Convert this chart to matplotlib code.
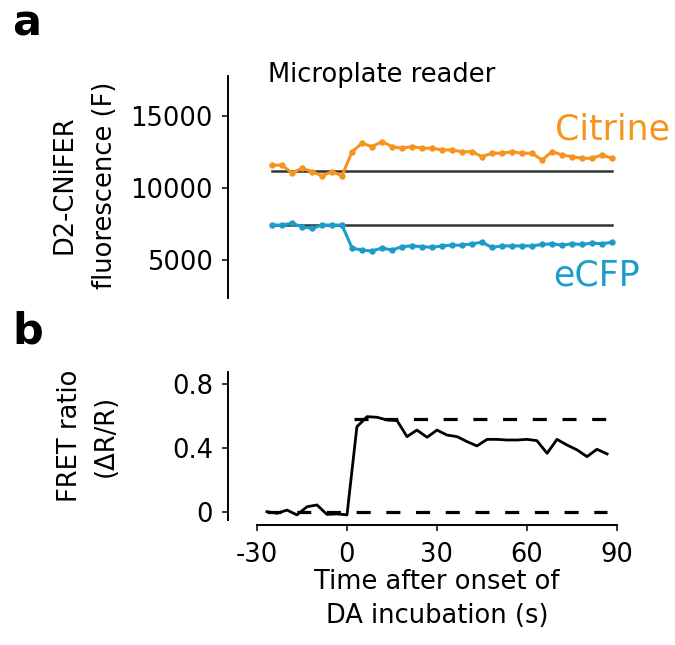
import matplotlib
matplotlib.use("Agg")
import matplotlib.pyplot as plt

plt.rcParams['font.family'] = ['DejaVu Sans']
plt.rcParams['axes.unicode_minus'] = False

# ---------------- data ----------------
# panel a: microplate reader time course
time_a = [-25.0, -21.7, -18.3, -15.0, -11.7, -8.3, -5.0, -1.7,
          1.7, 5.0, 8.3, 11.7, 15.0, 18.3, 21.7, 25.0, 28.3, 31.7, 35.0,
          38.3, 41.7, 45.0, 48.3, 51.7, 55.0, 58.3, 61.7, 65.0, 68.3,
          71.7, 75.0, 78.3, 81.7, 85.0, 88.3]
citrine = [11600, 11600, 11050, 11380, 11150, 10850, 11150, 10850,
           12540, 13130, 12900, 13240, 12900, 12780, 12900, 12780, 12780,
           12660, 12660, 12540, 12540, 12190, 12430, 12430, 12540, 12430,
           12430, 11960, 12540, 12310, 12190, 12080, 12080, 12310, 12080]
ecfp = [7410, 7410, 7530, 7290, 7180, 7410, 7410, 7410,
        5800, 5660, 5600, 5800, 5660, 5900, 5950, 5900, 5850, 5950,
        6000, 6000, 6100, 6200, 5850, 5950, 5950, 5950, 5950, 6050,
        6100, 6000, 6100, 6050, 6150, 6100, 6200]
citrine_baseline = 11200
ecfp_baseline = 7400

# panel b: FRET ratio
time_b = [-26.7, -23.3, -20.0, -16.7, -13.3, -10.0, -6.7, -3.3, 0.0,
          3.3, 6.7, 10.0, 13.3, 16.7, 20.0, 23.3, 26.7, 30.0, 33.3,
          36.7, 40.0, 43.3, 46.7, 50.0, 53.3, 56.7, 60.0, 63.3, 66.7,
          70.0, 73.3, 76.7, 80.0, 83.3, 86.7]
fret = [0.002, -0.008, 0.012, -0.018, 0.033, 0.044, -0.015, -0.012, -0.018,
        0.533, 0.596, 0.592, 0.575, 0.571, 0.471, 0.512, 0.467, 0.512,
        0.481, 0.471, 0.440, 0.413, 0.454, 0.454, 0.450, 0.450, 0.454,
        0.446, 0.367, 0.454, 0.419, 0.388, 0.346, 0.392, 0.363]
fret_low = 0.0
fret_high = 0.58

a_yticks = [5000, 10000, 15000]
a_yticklabels = ['5000', '10000', '15000']
b_yticks = [0, 0.4, 0.8]
b_yticklabels = ['0', '0.4', '0.8']
b_xticks = [-30, 0, 30, 60, 90]
b_xticklabels = ['-30', '0', '30', '60', '90']

ORANGE = '#F7941D'
BLUE = '#1C9CC9'
FS = 18.5

W, H = 675, 645
fig = plt.figure(figsize=(W / 100, H / 100), dpi=100)


def rect(l, r, t, b):
    return [l / W, 1 - b / H, (r - l) / W, (b - t) / H]


def px(x, y):
    return x / W, 1 - y / H


# ---------------- panel a ----------------
ax1 = fig.add_axes(rect(257, 617, 76, 298))
ax1.plot([time_a[0], time_a[-1]], [citrine_baseline] * 2, color='#333333', lw=1.8, zorder=1)
ax1.plot([time_a[0], time_a[-1]], [ecfp_baseline] * 2, color='#333333', lw=1.8, zorder=1)
ax1.plot(time_a, citrine, color=ORANGE, lw=2.2, marker='o', ms=3.6, zorder=2)
ax1.plot(time_a, ecfp, color=BLUE, lw=2.2, marker='o', ms=3.6, zorder=2)
ax1.set_xlim(-30, 90)
ax1.set_ylim(2308, 17832)
for s in ['top', 'right', 'bottom']:
    ax1.spines[s].set_visible(False)
ax1.spines['left'].set_position(('outward', 20.9))
ax1.spines['left'].set_linewidth(1.4)
ax1.set_xticks([])
ax1.set_yticks(a_yticks)
ax1.set_yticklabels(a_yticklabels)
ax1.tick_params(axis='y', length=4.3, width=1.1, pad=6.5, labelsize=FS, colors='black')

# ---------------- panel b ----------------
ax2 = fig.add_axes(rect(257, 617, 372, 520))
ax2.plot([time_b[0], time_b[-1]], [fret_low] * 2, color='black', lw=2.3,
         linestyle=(0, (4.4, 4.9)), zorder=1)
ax2.plot([time_b[9] - 1.0, time_b[-1]], [fret_high] * 2, color='black', lw=2.3,
         linestyle=(0, (4.4, 4.9)), zorder=1)
ax2.plot(time_b, fret, color='black', lw=2.0, zorder=2)
ax2.set_xlim(-30, 90)
ax2.set_ylim(-0.05, 0.875)
for s in ['top', 'right']:
    ax2.spines[s].set_visible(False)
ax2.spines['left'].set_position(('outward', 20.9))
ax2.spines['bottom'].set_position(('outward', 3.6))
ax2.spines['left'].set_linewidth(1.4)
ax2.spines['bottom'].set_linewidth(1.4)
ax2.set_yticks(b_yticks)
ax2.set_yticklabels(b_yticklabels)
ax2.set_xticks(b_xticks)
ax2.set_xticklabels(b_xticklabels)
ax2.tick_params(axis='both', length=4.3, width=1.1, labelsize=FS, colors='black')
ax2.tick_params(axis='y', pad=6.5)
ax2.tick_params(axis='x', pad=8)

# ---------------- texts ----------------
fig.text(*px(12, 35), 'a', ha='left', va='baseline', fontsize=31, fontweight='bold')
fig.text(*px(12, 343), 'b', ha='left', va='baseline', fontsize=31, fontweight='bold')
fig.text(*px(268, 82), 'Microplate reader', ha='left', va='baseline', fontsize=FS)
fig.text(*px(555, 140), 'Citrine', ha='left', va='baseline', fontsize=25, color=ORANGE)
fig.text(*px(553, 285), 'eCFP', ha='left', va='baseline', fontsize=25, color=BLUE)
fig.text(*px(85, 185), 'D2-CNiFER\nfluorescence (F)', ha='center', va='center',
         rotation=90, fontsize=FS, linespacing=1.75)
fig.text(*px(88, 436), 'FRET ratio\n(ΔR/R)', ha='center', va='center',
         rotation=90, fontsize=FS, linespacing=1.5)
fig.text(*px(437, 599), 'Time after onset of\nDA incubation (s)', ha='center', va='center',
         fontsize=FS, linespacing=1.4)

fig.savefig('out.png', dpi=100)
